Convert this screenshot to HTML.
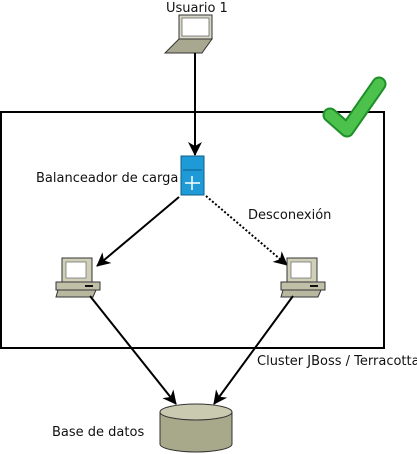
<!DOCTYPE html>
<html><head><style>body{margin:0;background:#fff}svg{display:block}text{font-family:"DejaVu Sans","Liberation Sans",sans-serif;font-size:13px;fill:#111}</style></head><body>
<svg width="417" height="454" viewBox="0 0 417 454" xmlns="http://www.w3.org/2000/svg">
<defs>
<marker id="a" markerWidth="14" markerHeight="14" refX="13" refY="7" orient="auto" markerUnits="userSpaceOnUse"><path d="M0,0 L14,7 L0,14 L4,7z" fill="#000"/></marker>
<linearGradient id="g" x1="0" y1="0" x2="1" y2="1"><stop offset="0" stop-color="#7fd67f"/><stop offset="1" stop-color="#1f9a2a"/></linearGradient>
</defs>
<rect x="1" y="112" width="383" height="236" fill="none" stroke="#000" stroke-width="2"/>
<!-- check -->
<path d="M178,115 L195,130 L227,84" transform="translate(152,0)" fill="none" stroke="#1f8f2a" stroke-width="15" stroke-linecap="round" stroke-linejoin="round"/>
<path d="M178,115 L195,130 L227,84" transform="translate(152,0)" fill="none" stroke="#4cc14c" stroke-width="11" stroke-linecap="round" stroke-linejoin="round"/>
<text x="166" y="12">Usuario 1</text>
<!-- laptop -->
<rect x="179" y="15" width="33" height="24" fill="#d8d8c8" stroke="#333" stroke-width="1"/>
<rect x="182" y="18" width="27" height="18" fill="#fff" stroke="#555" stroke-width="0.7"/>
<path d="M179,39 L212,39 L202,53 L165,53 Z" fill="#a8a890" stroke="#333"/>
<line x1="195" y1="53" x2="195" y2="155" stroke="#000" stroke-width="2" marker-end="url(#a)"/>
<!-- server -->
<rect x="181" y="156" width="23" height="39" fill="#1e9ad6" stroke="#0a5f8a"/>
<line x1="183" y1="170" x2="202" y2="170" stroke="#0a5f8a"/>
<path d="M185,183 h15 M192,176 v14" stroke="#fff" stroke-width="1.5"/>
<text x="36" y="182">Balanceador de carga</text>
<line x1="179" y1="197" x2="97" y2="266" stroke="#000" stroke-width="2" marker-end="url(#a)"/>
<line x1="206" y1="196" x2="287" y2="265" stroke="#000" stroke-width="2" stroke-dasharray="2,2" marker-end="url(#a)"/>
<text x="248" y="219">Desconexión</text>
<!-- PCs -->
<g id="pc">
<rect x="62" y="258" width="30" height="24" fill="#d0d0b8" stroke="#333"/>
<rect x="66" y="262" width="20" height="16" fill="#fff" stroke="#666" stroke-width="0.7"/>
<rect x="56" y="282" width="44" height="8" fill="#c0c0a8" stroke="#333"/>
<rect x="85" y="285" width="8" height="2" fill="#111"/>
<path d="M58,290 L96,290 L93,297 L56,297 Z" fill="#b8b8a0" stroke="#333"/>
</g>
<use href="#pc" x="225"/>
<line x1="90" y1="296" x2="176" y2="404" stroke="#000" stroke-width="2" marker-end="url(#a)"/>
<line x1="293" y1="296" x2="214" y2="404" stroke="#000" stroke-width="2" marker-end="url(#a)"/>
<text x="257" y="365">Cluster JBoss / Terracotta</text>
<!-- DB -->
<path d="M160,412 L160,444 A36,8 0 0 0 232,444 L232,412" fill="#a8a88a" stroke="#333"/>
<ellipse cx="196" cy="412" rx="36" ry="8" fill="#cacab0" stroke="#333"/>
<text x="52" y="436">Base de datos</text>
</svg>
</body></html>
